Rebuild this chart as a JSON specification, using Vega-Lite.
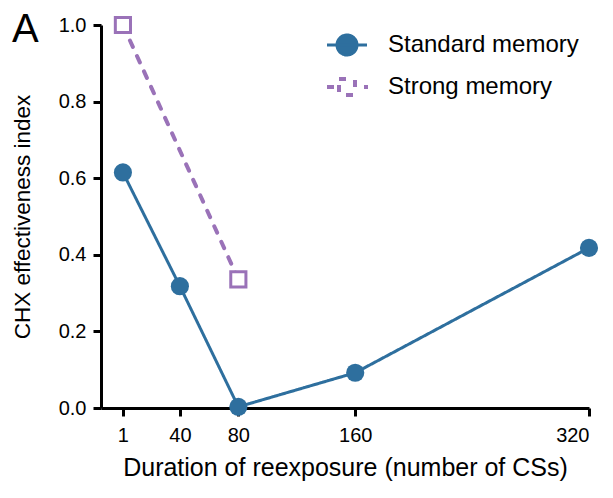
{
  "$schema": "https://vega.github.io/schema/vega-lite/v6.json",
  "width": 488,
  "height": 383,
  "autosize": {"type": "none"},
  "padding": {"left": 101, "top": 25, "right": 24, "bottom": 90},
  "background": "white",
  "title": {
    "text": "A",
    "anchor": "start",
    "frame": "group",
    "fontSize": 40,
    "fontWeight": "normal",
    "font": "Liberation Sans",
    "color": "black",
    "offset": 0,
    "baseline": "top",
    "dx": -89,
    "dy": 39
  },
  "config": {
    "view": {"stroke": null},
    "font": "Liberation Sans",
    "axis": {
      "grid": false,
      "domainColor": "black",
      "domainWidth": 3,
      "tickColor": "black",
      "tickWidth": 3,
      "tickSize": 8,
      "labelFont": "Liberation Sans",
      "labelFontSize": 20,
      "labelColor": "black",
      "titleFont": "Liberation Sans",
      "titleFontSize": 23,
      "titleFontWeight": "normal",
      "titleColor": "black"
    }
  },
  "data": {
    "values": [
      {"x": 1, "y": 0.615, "series": "Standard memory"},
      {"x": 40, "y": 0.318, "series": "Standard memory"},
      {"x": 80, "y": 0.003, "series": "Standard memory"},
      {"x": 160, "y": 0.092, "series": "Standard memory"},
      {"x": 320, "y": 0.418, "series": "Standard memory"},
      {"x": 1, "y": 1.0, "series": "Strong memory"},
      {"x": 80, "y": 0.336, "series": "Strong memory"}
    ]
  },
  "encoding": {
    "x": {
      "field": "x",
      "type": "quantitative",
      "scale": {"domain": [-14, 320], "nice": false, "zero": false},
      "axis": {
        "values": [1, 40, 80, 160, 320],
        "title": "Duration of reexposure (number of CSs)",
        "labelPadding": 9,
        "titlePadding": 10,
        "titleFontSize": 25
      }
    },
    "y": {
      "field": "y",
      "type": "quantitative",
      "scale": {"domain": [0, 1], "nice": false},
      "axis": {
        "values": [0, 0.2, 0.4, 0.6, 0.8, 1.0],
        "format": ".1f",
        "title": "CHX effectiveness index",
        "labelPadding": 7,
        "titlePadding": 24,
        "titleFontSize": 22.5
      }
    }
  },
  "layer": [
    {
      "mark": {"type": "line", "strokeCap": "round"},
      "encoding": {
        "color": {
          "field": "series",
          "type": "nominal",
          "scale": {"domain": ["Standard memory", "Strong memory"], "range": ["#2e6f9e", "#9a72b8"]},
          "legend": {
            "title": null,
            "orient": "none",
            "legendX": 234,
            "legendY": 8,
            "padding": 0,
            "symbolSize": 400,
            "symbolStrokeWidth": 3,
            "labelFontSize": 24,
            "labelFont": "Liberation Sans",
            "labelColor": "black",
            "labelOffset": 29,
            "labelLimit": 0,
            "rowPadding": 10,
            "encode": {
              "symbols": {
                "update": {
                  "shape": [
                    {"test": "datum.value === 'Strong memory'", "value": "M-2,0H-0.95M1.7,0H2.1M-0.8,-0.8H0.8V0.8H-0.8Z"},
                    {"value": "M-2,0H2M1,0A1,1,0,1,1,-1,0A1,1,0,1,1,1,0Z"}
                  ],
                  "fill": [
                    {"test": "datum.value === 'Strong memory'", "value": "white"},
                    {"value": "#2e6f9e"}
                  ],
                  "stroke": [
                    {"test": "datum.value === 'Strong memory'", "value": "#9a72b8"},
                    {"value": "#2e6f9e"}
                  ],
                  "strokeDash": {"value": []},
                  "strokeWidth": {"value": 3},
                  "opacity": {"value": 1}
                }
              }
            }
          }
        },
        "strokeDash": {
          "field": "series",
          "type": "nominal",
          "scale": {"domain": ["Standard memory", "Strong memory"], "range": [[1, 0], [7, 10]]},
          "legend": null
        },
        "strokeWidth": {
          "field": "series",
          "type": "nominal",
          "scale": {"domain": ["Standard memory", "Strong memory"], "range": [3, 4]},
          "legend": null
        }
      }
    },
    {
      "transform": [{"filter": "datum.series === 'Standard memory'"}],
      "mark": {"type": "point", "shape": "circle", "filled": true, "size": 330, "color": "#2e6f9e", "opacity": 1}
    },
    {
      "transform": [{"filter": "datum.series === 'Strong memory'"}],
      "mark": {"type": "point", "shape": "square", "filled": false, "fill": "white", "fillOpacity": 1, "stroke": "#9a72b8", "strokeWidth": 3, "size": 230, "opacity": 1}
    }
  ]
}
